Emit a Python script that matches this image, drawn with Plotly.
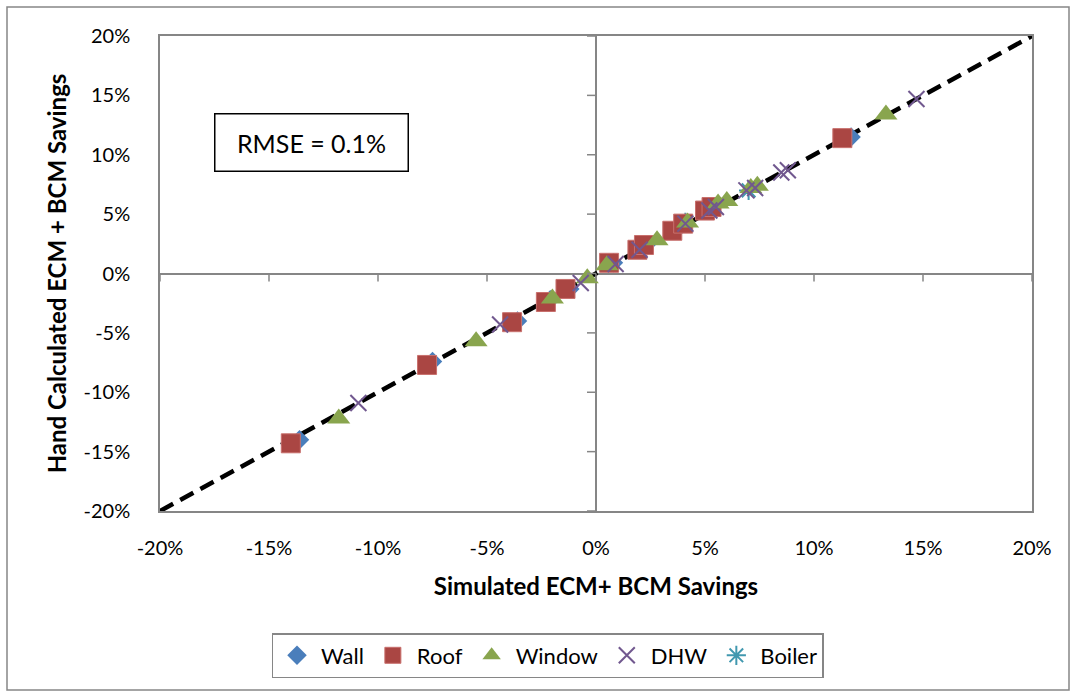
import plotly.graph_objects as go

# ---- data (percent) ----
wall_x = [-13.6, -7.5, -3.6, -2.1, -1.2, 0.8, 2.3, 3.7, 5.2, 11.7]
wall_y = [-14.0, -7.4, -4.0, -2.2, -1.3, 0.9, 2.4, 3.7, 5.4, 11.5]

roof_x = [-14.0, -7.75, -3.85, -2.3, -1.4, 0.6, 1.9, 2.2, 3.5, 4.0, 5.0, 5.3, 11.3]
roof_y = [-14.3, -7.7, -4.1, -2.4, -1.3, 0.9, 2.0, 2.4, 3.6, 4.2, 5.3, 5.6, 11.4]

window_x = [-11.8, -5.5, -2.0, -0.4, 0.5, 2.8, 4.2, 5.6, 6.0, 7.1, 7.4, 13.3]
window_y = [-12.2, -5.7, -2.1, -0.4, 0.7, 2.8, 4.3, 5.9, 6.1, 7.2, 7.4, 13.4]

dhw_x = [-10.9, -4.4, -0.7, 0.9, 2.0, 4.1, 5.2, 5.5, 6.9, 7.3, 8.5, 8.8, 14.7]
dhw_y = [-10.9, -4.3, -0.8, 0.8, 2.0, 4.2, 5.3, 5.6, 7.0, 7.2, 8.5, 8.7, 14.7]

boiler_x = [4.1, 7.0]
boiler_y = [4.3, 7.0]

line_x = [-20, 20]
line_y = [-20, 20]

tick_vals = [-20, -15, -10, -5, 0, 5, 10, 15, 20]
tick_text = [f"{v}%" for v in tick_vals]

FONT = "Lato"

fig = go.Figure()

fig.add_trace(go.Scatter(x=line_x, y=line_y, mode="lines", showlegend=False,
                         line=dict(color="black", width=4.5, dash="15px,8px"),
                         hoverinfo="skip"))

fig.add_trace(go.Scatter(x=boiler_x, y=boiler_y, mode="markers", name="Boiler", legendrank=5,
                         marker=dict(symbol="asterisk-open", size=16, color="#4198AF",
                                     line=dict(width=2, color="#4198AF"))))
fig.add_trace(go.Scatter(x=wall_x, y=wall_y, mode="markers", name="Wall", legendrank=1,
                         marker=dict(symbol="diamond", size=15, color="#4A7EBB",
                                     line=dict(width=0))))
fig.add_trace(go.Scatter(x=roof_x, y=roof_y, mode="markers", name="Roof", legendrank=2,
                         marker=dict(symbol="square", size=19, color="#AA4643",
                                     line=dict(width=1, color="#C8706D"))))
fig.add_trace(go.Scatter(x=window_x, y=window_y, mode="markers", name="Window", legendrank=3,
                         marker=dict(symbol="triangle-up", size=20, color="#89A54E",
                                     line=dict(width=0))))
fig.add_trace(go.Scatter(x=dhw_x, y=dhw_y, mode="markers", name="DHW", legendrank=4,
                         marker=dict(symbol="x-thin-open", size=16, color="#71588F",
                                     line=dict(width=2, color="#71588F"))))

# tick marks on the zero-crossing axes
shapes = []
for v in tick_vals:
    shapes.append(dict(type="line", xref="x", yref="y", x0=v, x1=v, y0=0, y1=-8,
                       ysizemode="pixel", yanchor=0,
                       line=dict(color="#868686", width=1.5)))
    shapes.append(dict(type="line", xref="x", yref="y", y0=v, y1=v, x0=-9, x1=0,
                       xsizemode="pixel", xanchor=0,
                       line=dict(color="#868686", width=1.5)))
# outer chart border
shapes.append(dict(type="rect", xref="paper", yref="paper",
                   x0=(7 - 160) / 872, x1=(1069 - 160) / 872,
                   y0=(511 - 690) / 475, y1=(511 - 7) / 475,
                   line=dict(color="#868686", width=1.5), layer="below"))

fig.update_layout(
    width=1073, height=694,
    margin=dict(l=160, r=41, t=36, b=183),
    paper_bgcolor="white", plot_bgcolor="white",
    font=dict(family=FONT, size=20, color="black"),
    shapes=shapes,
    xaxis=dict(range=[-20, 20], tickvals=tick_vals, ticktext=tick_text,
               showgrid=False, zeroline=True, zerolinecolor="#868686", zerolinewidth=1.5,
               showline=True, linecolor="#868686", linewidth=1.5, mirror=True,
               ticks="", ticklabelstandoff=18,
               title=dict(text="<b>Simulated ECM+ BCM Savings</b>", font=dict(size=24), standoff=20)),
    yaxis=dict(range=[-20, 20], tickvals=tick_vals, ticktext=tick_text,
               showgrid=False, zeroline=True, zerolinecolor="#868686", zerolinewidth=1.5,
               showline=True, linecolor="#868686", linewidth=1.5, mirror=True,
               ticks="", ticklabelstandoff=24,
               title=dict(text="<b>Hand Calculated ECM + BCM Savings</b>", font=dict(size=24), standoff=10)),
    legend=dict(orientation="h", x=(547.5 - 160) / 872, xanchor="center",
                y=(511 - 633) / 475, yanchor="top",
                bordercolor="#868686", borderwidth=1.5, font=dict(size=22),
                itemwidth=38, tracegroupgap=0),
    annotations=[dict(text="RMSE = 0.1%", xref="paper", yref="paper",
                      x=(311.5 - 160) / 872, y=(511 - 142.5) / 475,
                      xanchor="center", yanchor="middle",
                      showarrow=False, font=dict(size=25),
                      bordercolor="black", borderwidth=1.5, width=190, height=54,
                      bgcolor="white")],
)

fig.write_html("out.html")
